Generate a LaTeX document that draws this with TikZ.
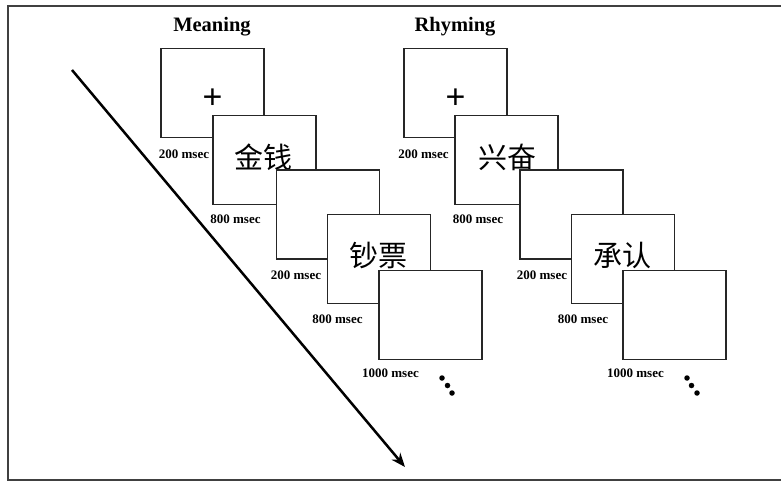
\documentclass[tikz,border=0pt]{standalone}
\usepackage{fontspec}
\setmainfont{Liberation Serif}
\newfontfamily\cjk{Noto Sans CJK SC}
\newfontfamily\plusfont{Liberation Sans}
\usetikzlibrary{arrows.meta}
\begin{document}
\begin{tikzpicture}[x=1pt,y=-1pt,
  scr/.style={draw=black!85, line width=1.5pt, fill=white, minimum width=103pt, minimum height=89pt, inner sep=0pt},
  lab/.style={font=\fontsize{13}{15}\selectfont\bfseries, inner sep=0pt},
  ttl/.style={font=\fontsize{20.5}{22}\selectfont\bfseries, inner sep=0pt},
  word/.style={font=\cjk\fontsize{29}{31}\selectfont, inner sep=0pt},
  fix/.style={font=\plusfont\fontsize{34}{34}\selectfont, inner sep=0pt},
  dotc/.style={circle, fill=black, inner sep=0pt, minimum size=5.5pt}]
\useasboundingbox (0,0) rectangle (781,481);
% frame
\draw[black!75, line width=1.5pt] (781,6) -- (8,6) -- (8,480) -- (781,480);
% time arrow
\coordinate (as) at (72,70);
\coordinate (ae) at (405,467);
\draw[line width=2.5pt, -{Stealth[length=14pt,width=11pt]}] (as) -- (ae);
% titles
\node[ttl] (tm) at (212,27) {Meaning};
\node[ttl] (tr) at (455,27) {Rhyming};
% Meaning sequence
\node[scr] (m1) at (212.5,93) {};
\node[fix] (m1t) at (212.5,99) {+};
\node[scr] (m2) at (264.5,160) {};
\node[word] (m2t) at (263.5,157) {金钱};
\node[scr] (m3) at (328,214.5) {};
\node[scr] (m4) at (379,259) {};
\node[word] (m4t) at (378,255) {钞票};
\node[scr] (m5) at (430.5,315) {};
\node[lab] (ml1) at (184,154) {200 msec};
\node[lab] (ml2) at (235.5,219) {800 msec};
\node[lab] (ml3) at (296,275) {200 msec};
\node[lab] (ml4) at (337.5,319) {800 msec};
\node[lab] (ml5) at (390.5,373) {1000 msec};
\node[dotc] (md1) at (442,378) {};
\node[dotc] (md2) at (447.5,385.5) {};
\node[dotc] (md3) at (452,393) {};
% Rhyming sequence
\node[scr] (r1) at (455.5,93) {};
\node[fix] (r1t) at (455.5,99) {+};
\node[scr] (r2) at (506.5,160) {};
\node[word] (r2t) at (507,157) {兴奋};
\node[scr] (r3) at (571.5,214.5) {};
\node[scr] (r4) at (623,259) {};
\node[word] (r4t) at (622.5,255) {承认};
\node[scr] (r5) at (674.5,315) {};
\node[lab] (rl1) at (423.5,154) {200 msec};
\node[lab] (rl2) at (478,219) {800 msec};
\node[lab] (rl3) at (542,275) {200 msec};
\node[lab] (rl4) at (583,319) {800 msec};
\node[lab] (rl5) at (635.5,373) {1000 msec};
\node[dotc] (rd1) at (687,378) {};
\node[dotc] (rd2) at (691.5,385.5) {};
\node[dotc] (rd3) at (697,393) {};
\end{tikzpicture}
\end{document}
